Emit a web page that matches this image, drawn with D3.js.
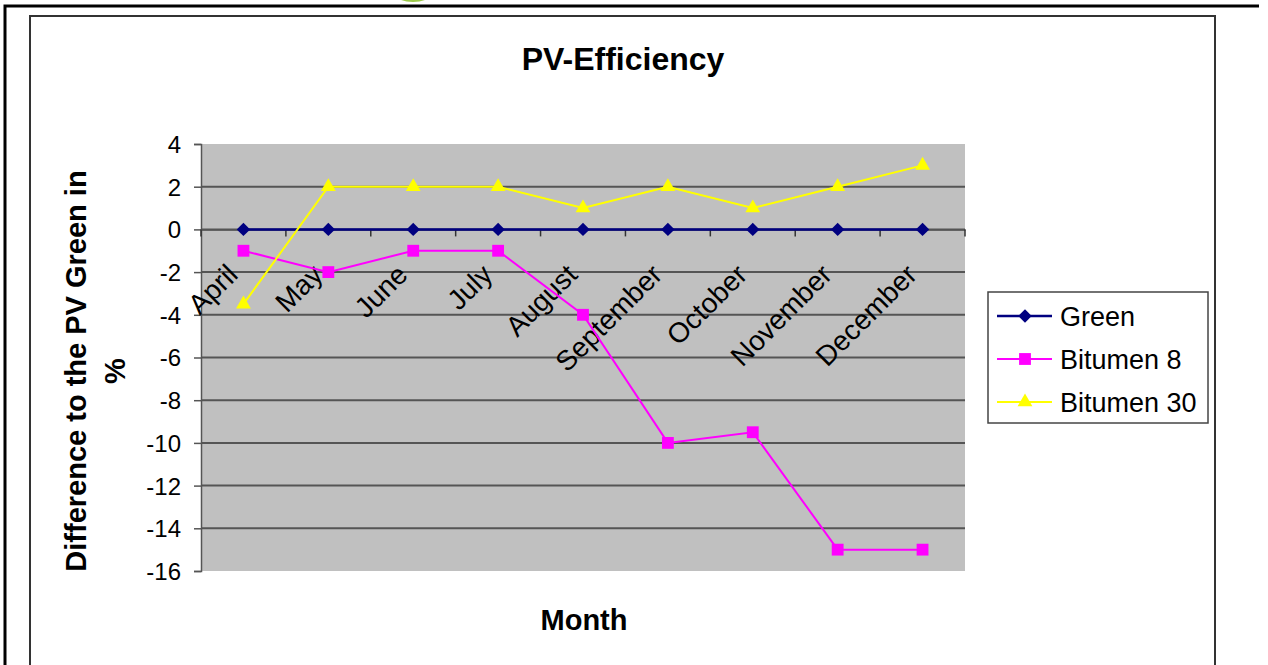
<!DOCTYPE html>
<html>
<head>
<meta charset="utf-8">
<script src="https://cdn.jsdelivr.net/npm/d3@7"></script>
<style>
  body { margin: 0; background: #fff; }
  text { font-family: Arial, "Liberation Sans", sans-serif; }
</style>
</head>
<body>
<div id="chart"></div>
<script>
const months = ["April", "May", "June", "July", "August", "September", "October", "November", "December"];
const green = [0, 0, 0, 0, 0, 0, 0, 0, 0];
const bitumen8 = [-1, -2, -1, -1, -4, -10, -9.5, -15, -15];
const bitumen30 = [-3.5, 2, 2, 2, 1, 2, 1, 2, 3];
const yTicks = [4, 2, 0, -2, -4, -6, -8, -10, -12, -14, -16];

// square diamond like the office chart marker
const diamond = {
    draw(ctx, size) {
        const r = Math.sqrt(size / 2);
        ctx.moveTo(0, -r);
        ctx.lineTo(r, 0);
        ctx.lineTo(0, r);
        ctx.lineTo(-r, 0);
        ctx.closePath();
    }
};

const series = [
    { name: "Green", values: green, color: "#000080", marker: diamond, size: 90, width: 2.5 },
    { name: "Bitumen 8", values: bitumen8, color: "#ff00ff", marker: d3.symbolSquare, size: 140, width: 2 },
    { name: "Bitumen 30", values: bitumen30, color: "#ffff00", marker: d3.symbolTriangle, size: 95, width: 2 }
];

const W = 1268, H = 665;
const svg = d3.select("#chart").append("svg")
    .attr("width", W)
    .attr("height", H);

// page frame + chart frame
svg.append("path")
    .attr("d", "M5,665 L5,6 L1259,6")
    .attr("fill", "none").attr("stroke", "#000").attr("stroke-width", 3);
svg.append("ellipse")
    .attr("cx", 413).attr("cy", -6).attr("rx", 18).attr("ry", 8)
    .attr("fill", "#9cc94a");
svg.append("path")
    .attr("d", "M30,665 L30,16 L1215,16 L1215,665")
    .attr("fill", "none").attr("stroke", "#333").attr("stroke-width", 2);

const plot = { left: 201, right: 965, top: 144, bottom: 571 };

const x = d3.scaleBand()
    .domain(months)
    .range([plot.left, plot.right]);

const y = d3.scaleLinear()
    .domain([-16, 4])
    .range([plot.bottom, plot.top]);

svg.append("rect")
    .attr("x", plot.left).attr("y", plot.top)
    .attr("width", plot.right - plot.left).attr("height", plot.bottom - plot.top)
    .attr("fill", "#c0c0c0");

// gridlines
svg.append("g")
    .selectAll("line")
    .data(yTicks.filter(d => d !== 4 && d !== -16))
    .enter().append("line")
    .attr("x1", plot.left).attr("x2", plot.right)
    .attr("y1", d => y(d)).attr("y2", d => y(d))
    .attr("stroke", "#555").attr("stroke-width", 2);

// y axis
const yAxis = svg.append("g")
    .attr("transform", `translate(${plot.left},0)`)
    .call(d3.axisLeft(y).tickValues(yTicks).tickSize(7).tickPadding(13).tickFormat(d => String(d)));
yAxis.select(".domain").attr("stroke", "#555").attr("stroke-width", 1.5);
yAxis.selectAll(".tick line").attr("stroke", "#555").attr("stroke-width", 1.5);
yAxis.selectAll("text")
    .attr("fill", "#000")
    .style("font-size", "24px")
    .style("font-family", "Arial, 'Liberation Sans', sans-serif")
    .attr("dy", "0.35em");

// x axis at zero
const xAxis = svg.append("g")
    .attr("transform", `translate(0,${y(0)})`)
    .call(d3.axisBottom(x).tickSize(0).tickFormat(""));
xAxis.select(".domain").attr("stroke", "#555").attr("stroke-width", 1.5);
xAxis.selectAll(".tick").remove();

const bounds = months.map(m => x(m)).concat([plot.right]);
svg.append("g")
    .selectAll("line")
    .data(bounds)
    .enter().append("line")
    .attr("x1", d => d).attr("x2", d => d)
    .attr("y1", y(0)).attr("y2", y(0) + 7)
    .attr("stroke", "#333").attr("stroke-width", 1.5);

svg.append("g")
    .selectAll("text")
    .data(months)
    .enter().append("text")
    .attr("transform", d => `translate(${x(d) + x.bandwidth() / 2 - 4},${y(0) + 47}) rotate(-45)`)
    .attr("text-anchor", "end")
    .style("font-size", "28px")
    .text(d => d);

// series
const line = d3.line()
    .x((d, i) => x(months[i]) + x.bandwidth() / 2)
    .y(d => y(d));

series.forEach(s => {
    svg.append("path")
        .datum(s.values)
        .attr("d", line)
        .attr("fill", "none")
        .attr("stroke", s.color)
        .attr("stroke-width", s.width);
    svg.append("g")
        .selectAll("path")
        .data(s.values)
        .enter().append("path")
        .attr("d", d3.symbol().type(s.marker).size(s.size))
        .attr("transform", (d, i) => `translate(${x(months[i]) + x.bandwidth() / 2},${y(d)})`)
        .attr("fill", s.color);
});

// titles
svg.append("text")
    .attr("x", 623).attr("y", 70)
    .attr("text-anchor", "middle")
    .style("font-size", "32px").style("font-weight", "bold")
    .text("PV-Efficiency");

svg.append("text")
    .attr("x", 584).attr("y", 630)
    .attr("text-anchor", "middle")
    .style("font-size", "29px").style("font-weight", "bold")
    .text("Month");

const yt = svg.append("text")
    .attr("transform", "translate(86,371) rotate(-90)")
    .attr("text-anchor", "middle")
    .style("font-size", "29px").style("font-weight", "bold");
yt.append("tspan").attr("x", 0).attr("y", 0).text("Difference to the PV Green in");
yt.append("tspan").attr("x", 0).attr("y", 39).text("%");

// legend
const legend = svg.append("g")
    .attr("transform", "translate(988,292)");
legend.append("rect")
    .attr("width", 220).attr("height", 131)
    .attr("fill", "#fff").attr("stroke", "#444").attr("stroke-width", 1.5);

const items = legend.selectAll(".legend-item")
    .data(series)
    .enter().append("g")
    .attr("class", "legend-item")
    .attr("transform", (d, i) => `translate(0,${24 + i * 43})`);
items.append("line")
    .attr("x1", 9).attr("x2", 64)
    .attr("stroke", d => d.color).attr("stroke-width", d => d.width);
items.append("path")
    .attr("d", d => d3.symbol().type(d.marker).size(d.size)())
    .attr("transform", "translate(37,0)")
    .attr("fill", d => d.color);
items.append("text")
    .attr("x", 72).attr("dy", "0.36em")
    .style("font-size", "27px")
    .text(d => d.name);
</script>
</body>
</html>
